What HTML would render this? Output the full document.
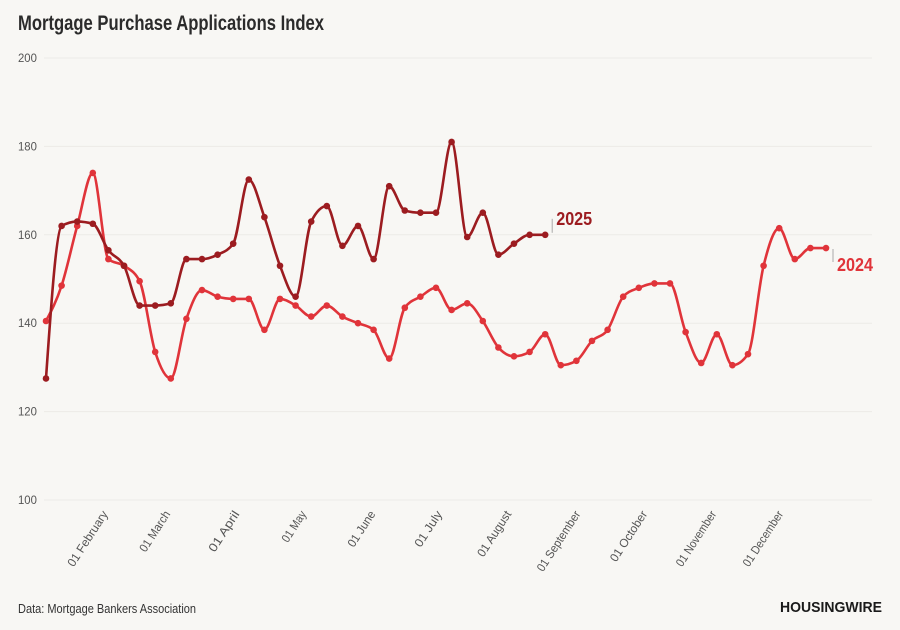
<!DOCTYPE html>
<html><head><meta charset="utf-8"><style>
html,body{margin:0;padding:0;background:#f8f7f4;}
svg{display:block;font-family:"Liberation Sans Narrow","Liberation Sans",sans-serif;}
</style></head><body>
<svg id="chart" width="900" height="630" viewBox="0 0 900 630" xmlns="http://www.w3.org/2000/svg">
<rect width="900" height="630" fill="#f8f7f4"/>
<text x="18" y="30" font-size="21" font-weight="bold" fill="#2b2b2b" textLength="306" lengthAdjust="spacingAndGlyphs">Mortgage Purchase Applications Index</text>
<g id="grid"></g><g id="yaxis"></g><g id="xaxis"></g><g id="series"></g>
<text x="18" y="613" font-size="13" fill="#333" textLength="178" lengthAdjust="spacingAndGlyphs">Data: Mortgage Bankers Association</text>
<text x="780" y="612" font-size="15" font-weight="bold" fill="#1a1a1a" textLength="102" lengthAdjust="spacingAndGlyphs">HOUSINGWIRE</text>
</svg>
<script>
const yTicks=[100,120,140,160,180,200];
const monthLabels=["01 February","01 March","01 April","01 May","01 June","01 July","01 August","01 September","01 October","01 November","01 December"];
const monthDays=[32,60,91,121,152,182,213,244,274,305,335];
const values2024=[140.5,148.5,162,174,154.5,153,149.5,133.5,127.5,141,147.5,146,145.5,145.5,138.5,145.5,144,141.5,144,141.5,140,138.5,132,143.5,146,148,143,144.5,140.5,134.5,132.5,133.5,137.5,130.5,131.5,136,138.5,146,148,149,149,138,131,137.5,130.5,133,153,161.5,154.5,157,157];
const values2025=[127.5,162,163,162.5,156.5,153,144,144,144.5,154.5,154.5,155.5,158,172.5,164,153,146,163,166.5,157.5,162,154.5,171,165.5,165,165,181,159.5,165,155.5,158,160,160];
const NS="http://www.w3.org/2000/svg";
const y=v=>500-(v-100)*4.42;
const xi=i=>46+i*15.6;
const xd=d=>46+(d-4)/7*15.6;
function mk(t,a,p){const e=document.createElementNS(NS,t);for(const k in a)e.setAttribute(k,a[k]);p.appendChild(e);return e;}
const grid=document.getElementById('grid'),ya=document.getElementById('yaxis'),xa=document.getElementById('xaxis'),ser=document.getElementById('series');
yTicks.forEach(v=>{
 const l=mk('line',{x1:44,x2:872,y1:y(v),y2:y(v),stroke:'#ecebe7','stroke-width':1},grid);
 
 
 const t=mk('text',{x:18,y:y(v)+4,'font-size':12,fill:'#555',textLength:String(v).length*6.3,lengthAdjust:'spacingAndGlyphs'},ya);t.textContent=v;
 
 
});
monthLabels.forEach((m,i)=>{
 const x=xd(monthDays[i]);
 const t=mk('text',{x:x,y:514,'font-size':12,fill:'#555','text-anchor':'end',textLength:m.length*5.8,lengthAdjust:'spacingAndGlyphs',transform:`rotate(-57 ${x} 514)`},xa);
 t.textContent=m;
 
 
});
function sgn(v){return v<0?-1:1;}
function monoPath(pts){
 const n=pts.length,d=[],m=new Array(n);
 for(let i=0;i<n-1;i++)d.push((pts[i+1][1]-pts[i][1])/(pts[i+1][0]-pts[i][0]));
 for(let i=1;i<n-1;i++){
  const h0=pts[i][0]-pts[i-1][0],h1=pts[i+1][0]-pts[i][0],s0=d[i-1],s1=d[i];
  const p=(s0*h1+s1*h0)/(h0+h1);
  m[i]=(sgn(s0)+sgn(s1))*Math.min(Math.abs(s0),Math.abs(s1),0.5*Math.abs(p))||0;
 }
 m[0]=(3*d[0]-m[1])/2; m[n-1]=(3*d[n-2]-m[n-2])/2;
 let s=`M${pts[0][0]},${pts[0][1]}`;
 for(let i=0;i<n-1;i++){const h=(pts[i+1][0]-pts[i][0])/3;
  s+=`C${pts[i][0]+h},${pts[i][1]+m[i]*h} ${pts[i+1][0]-h},${pts[i+1][1]-m[i+1]*h} ${pts[i+1][0]},${pts[i+1][1]}`;}
 return s;
}
function draw(vals,color,name){
 const g=mk('g',{},ser);
 
 
 const pts=vals.map((v,i)=>[xi(i),y(v)]);
 const p=mk('path',{d:monoPath(pts),fill:'none',stroke:color,'stroke-width':2.6},g);
 
 
 pts.forEach(q=>{const c=mk('circle',{cx:q[0],cy:q[1],r:3.3,fill:color},g);
  
  });
 const last=pts[pts.length-1];
 const l=mk('line',{x1:last[0]+7,x2:last[0]+7,y1:last[1]-2,y2:last[1]-16,stroke:'#aaa','stroke-width':1},g);
 if(name==='2024'){l.setAttribute('y1',last[1]+1);l.setAttribute('y2',last[1]+14);}
 
 
 const t=mk('text',{x:last[0]+11,y:name==='2024'?last[1]+23:last[1]-10,'font-size':18,'font-weight':'bold',fill:color,textLength:36,lengthAdjust:'spacingAndGlyphs'},g);
 t.textContent=name;
 
 
}
draw(values2024,'#e0343a','2024');
draw(values2025,'#9c1c20','2025');
</script>
</body></html>
